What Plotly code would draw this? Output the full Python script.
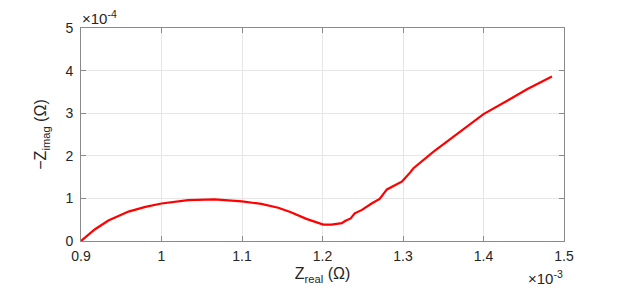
import plotly.graph_objects as go

# Z_real in units of 1e-3 ohm, -Z_imag in units of 1e-4 ohm
z_real = [0.900, 0.917, 0.934, 0.959, 0.980, 1.000, 1.033, 1.066, 1.100, 1.124,
          1.145, 1.160, 1.180, 1.195, 1.201, 1.211, 1.218, 1.224, 1.228, 1.235,
          1.240, 1.249, 1.261, 1.271, 1.280, 1.288, 1.299, 1.309, 1.313, 1.338,
          1.370, 1.400, 1.430, 1.454, 1.485]
z_imag = [0.00, 0.27, 0.48, 0.69, 0.80, 0.88, 0.96, 0.975, 0.93, 0.87,
          0.78, 0.68, 0.52, 0.42, 0.385, 0.385, 0.41, 0.42, 0.47, 0.53,
          0.65, 0.73, 0.88, 0.99, 1.21, 1.29, 1.40, 1.61, 1.71, 2.10,
          2.55, 2.98, 3.30, 3.56, 3.86]

x_ticks = [0.9, 1.0, 1.1, 1.2, 1.3, 1.4, 1.5]
x_labels = ["0.9", "1", "1.1", "1.2", "1.3", "1.4", "1.5"]
y_ticks = [0, 1, 2, 3, 4, 5]

AXIS_COLOR = "#8a8a8a"
TEXT_COLOR = "#262626"
FONT = "Liberation Sans, Arial, sans-serif"

fig = go.Figure()
fig.add_trace(go.Scatter(
    x=z_real, y=z_imag,
    mode="lines",
    line=dict(color="#ff0000", width=2.2),
    showlegend=False,
))

# page body adds an 8px offset, so the figure is sized to fit the window
fig.update_layout(
    width=615, height=287,
    margin=dict(l=73, r=59, t=16, b=54),
    paper_bgcolor="white",
    plot_bgcolor="white",
    font=dict(family=FONT, size=14, color=TEXT_COLOR),
)
fig.update_xaxes(
    range=[0.9, 1.5], tickvals=x_ticks, ticktext=x_labels,
    showgrid=True, gridcolor="#e6e6e6", gridwidth=1,
    showline=True, linecolor=AXIS_COLOR, linewidth=1, mirror="allticks",
    ticks="inside", ticklen=5, tickcolor=AXIS_COLOR,
    tickfont=dict(size=14), ticklabelstandoff=2,
    zeroline=False,
    title=dict(text="Z<sub>real</sub> (Ω)", font=dict(size=16), standoff=5),
)
fig.update_yaxes(
    range=[0, 5], tickvals=y_ticks,
    showgrid=True, gridcolor="#e6e6e6", gridwidth=1,
    showline=True, linecolor=AXIS_COLOR, linewidth=1, mirror="allticks",
    ticks="inside", ticklen=5, tickcolor=AXIS_COLOR,
    tickfont=dict(size=14), ticklabelstandoff=4,
    zeroline=False,
    title=dict(text="−Z<sub>imag</sub> (Ω)", font=dict(size=16), standoff=14),
)

fig.add_annotation(text="×10<sup>-4</sup>", xref="paper", yref="paper",
                   x=0.0, y=1.0, xanchor="left", yanchor="bottom",
                   borderpad=0, yshift=0,
                   showarrow=False, font=dict(size=15, color=TEXT_COLOR))
fig.add_annotation(text="×10<sup>-3</sup>", xref="paper", yref="paper",
                   x=1.0, y=-0.12, xanchor="right", yanchor="top",
                   borderpad=0,
                   showarrow=False, font=dict(size=15, color=TEXT_COLOR))

fig.write_html("out.html")
